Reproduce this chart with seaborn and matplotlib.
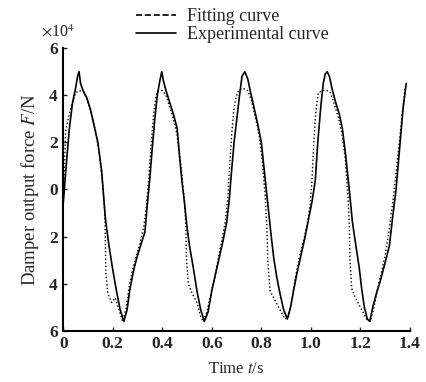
import seaborn as sns
import pandas as pd
import matplotlib.pyplot as plt
from matplotlib.lines import Line2D
from matplotlib.ticker import FixedLocator, FixedFormatter

# %% data (force in units of 10^4 N)
exp_t = [0.000, 0.012, 0.025, 0.038, 0.050, 0.058, 0.064, 0.070, 0.080, 0.095,
         0.110, 0.125, 0.140, 0.155, 0.170, 0.185, 0.200, 0.215, 0.230, 0.245,
         0.258, 0.270, 0.285, 0.300, 0.315, 0.330, 0.340, 0.350, 0.360, 0.370,
         0.380, 0.390, 0.398, 0.405, 0.415, 0.430, 0.445, 0.460, 0.470, 0.480,
         0.490, 0.500, 0.510, 0.525, 0.540, 0.555, 0.570, 0.585, 0.600, 0.615,
         0.630, 0.645, 0.660, 0.670, 0.680, 0.690, 0.700, 0.712, 0.722, 0.733,
         0.745, 0.755, 0.770, 0.785, 0.800, 0.812, 0.825, 0.838, 0.850, 0.862,
         0.875, 0.890, 0.905, 0.918, 0.930, 0.945, 0.960, 0.975, 0.990, 1.005,
         1.018, 1.028, 1.040, 1.050, 1.058, 1.066, 1.075, 1.085, 1.100, 1.115,
         1.127, 1.140, 1.155, 1.168, 1.182, 1.195, 1.205, 1.216, 1.228, 1.238,
         1.250, 1.265, 1.280, 1.300, 1.317, 1.330, 1.344, 1.358, 1.372, 1.385]
exp_f = [-0.6, 1.0, 2.6, 3.7, 4.3, 4.8, 5.0, 4.5, 4.2, 3.9,
         3.4, 2.7, 2.0, 0.8, -1.2, -2.4, -3.4, -4.3, -5.1, -5.6,
         -5.1, -4.2, -3.4, -2.8, -2.3, -1.8, -0.6, 0.5, 1.8, 3.0,
         4.0, 4.6, 5.0, 4.6, 4.2, 3.7, 3.2, 2.6, 1.4, 0.3,
         -0.6, -1.6, -2.4, -3.3, -4.3, -5.1, -5.6, -5.2, -4.3, -3.6,
         -2.9, -2.2, -1.4, -0.5, 0.8, 2.0, 2.9, 4.0, 4.8, 5.0,
         4.7, 4.2, 3.5, 2.8, 2.0, 0.8, -0.5, -1.8, -2.9, -3.7,
         -4.4, -5.1, -5.5, -5.0, -4.3, -3.5, -2.8, -2.1, -1.3, -0.5,
         0.4, 2.0, 3.5, 4.5, 4.9, 5.0, 4.8, 4.3, 3.7, 3.2,
         2.6, 1.5, 0.0, -1.4, -2.4, -3.3, -4.2, -5.0, -5.5, -5.6,
         -5.0, -4.4, -3.9, -3.1, -2.4, -1.2, 0.0, 1.7, 3.4, 4.5]

fit_t = [0.000, 0.005, 0.010, 0.020, 0.035, 0.050, 0.065, 0.085, 0.100, 0.115,
         0.130, 0.145, 0.160, 0.168, 0.170, 0.172, 0.180, 0.195, 0.210, 0.225,
         0.240, 0.255, 0.265, 0.280, 0.295, 0.310, 0.325, 0.335, 0.345, 0.355,
         0.365, 0.375, 0.385, 0.400, 0.415, 0.430, 0.445, 0.460, 0.475, 0.490,
         0.495, 0.498, 0.505, 0.520, 0.540, 0.555, 0.565, 0.580, 0.595, 0.610,
         0.625, 0.640, 0.655, 0.665, 0.672, 0.680, 0.688, 0.697, 0.708, 0.725,
         0.745, 0.760, 0.775, 0.790, 0.803, 0.815, 0.822, 0.826, 0.835, 0.850,
         0.865, 0.880, 0.895, 0.910, 0.925, 0.940, 0.955, 0.970, 0.985, 0.998,
         1.005, 1.012, 1.020, 1.030, 1.045, 1.065, 1.080, 1.095, 1.110, 1.125,
         1.140, 1.150, 1.155, 1.158, 1.165, 1.180, 1.195, 1.210, 1.225, 1.240,
         1.255, 1.270, 1.285, 1.300, 1.315, 1.330, 1.345, 1.360, 1.372, 1.380]
fit_f = [-0.8, 1.0, 2.5, 3.0, 3.6, 4.1, 4.2, 4.1, 3.7, 3.2,
         2.5, 1.6, 0.2, -1.0, -2.0, -3.5, -4.4, -4.8, -4.6, -5.1,
         -5.6, -5.0, -4.2, -3.4, -2.8, -2.3, -1.6, -0.8, 0.4, 1.9,
         3.2, 4.0, 4.2, 4.2, 4.0, 3.5, 3.0, 2.3, 1.0, -0.5,
         -1.5, -3.0, -4.0, -4.4, -4.8, -5.4, -5.6, -5.2, -4.5, -3.8,
         -3.0, -2.2, -1.3, -0.3, 1.0, 2.3, 3.3, 3.9, 4.2, 4.3,
         4.2, 3.8, 3.1, 2.4, 1.3, -0.2, -1.5, -3.0, -4.3, -4.6,
         -4.9, -5.2, -5.5, -5.4, -4.6, -3.6, -2.8, -2.2, -1.5, -0.6,
         0.5, 2.0, 3.3, 4.1, 4.2, 4.2, 4.1, 3.6, 3.1, 2.4,
         1.2, -0.3, -1.5, -3.0, -4.2, -4.6, -4.9, -5.2, -5.5, -5.6,
         -5.0, -4.2, -3.5, -2.8, -1.8, -0.6, 0.8, 2.3, 3.5, 4.3]

y_ticks = [-6, -4, -2, 0, 2, 4, 6]
y_tick_labels = ["6", "4", "2", "0", "2", "4", "6"]
x_ticks = [0, 0.2, 0.4, 0.6, 0.8, 1.0, 1.2, 1.4]
x_tick_labels = ["0", "0.2", "0.4", "0.6", "0.8", "1.0", "1.2", "1.4"]

exp_df = pd.DataFrame({"t": exp_t, "F": exp_f})
fit_df = pd.DataFrame({"t": fit_t, "F": fit_f})

# %% plot
sns.set_style("ticks")
plt.rcParams["font.family"] = ["Liberation Serif", "DejaVu Serif"]
plt.rcParams["mathtext.fontset"] = "stix"

fig = plt.figure(figsize=(4.27, 3.82), dpi=100)
ax = fig.add_axes([0.148, 0.134, 0.812, 0.740])

sns.lineplot(data=fit_df, x="t", y="F", ax=ax, color="black", linestyle=":",
             linewidth=1.0, sort=False, estimator=None)
sns.lineplot(data=exp_df, x="t", y="F", ax=ax, color="black", linestyle="-",
             linewidth=1.2, sort=False, estimator=None)

ax.set_xlim(0, 1.4)
ax.set_ylim(-6, 6)
ax.xaxis.set_major_locator(FixedLocator(x_ticks))
ax.xaxis.set_major_formatter(FixedFormatter(x_tick_labels))
ax.yaxis.set_major_locator(FixedLocator(y_ticks))
ax.yaxis.set_major_formatter(FixedFormatter(y_tick_labels))
ax.tick_params(direction="in", length=3, width=1, labelsize=12.5, pad=4)
for lab in ax.get_xticklabels() + ax.get_yticklabels():
    lab.set_fontweight("bold")
sns.despine(ax=ax)
for side in ["left", "bottom"]:
    ax.spines[side].set_linewidth(1.5)
    ax.spines[side].set_color("black")

ax.set_xlabel("Time $t$/s", fontsize=12, labelpad=6)
ax.set_ylabel("Damper output force $F$/N", fontsize=13.5, labelpad=6)
fig.text(0.095, 0.905, r"$\times$10$^4$", fontsize=11.5)

handles = [Line2D([], [], color="black", linestyle="--", linewidth=1.2),
           Line2D([], [], color="black", linestyle="-", linewidth=1.2)]
fig.legend(handles, ["Fitting curve", "Experimental curve"],
           loc="upper left", bbox_to_anchor=(0.29, 1.012), frameon=False,
           fontsize=13, handlelength=2.2, handletextpad=0.6,
           labelspacing=0.05, borderpad=0.2)

plt.savefig("out.png", dpi=100)
